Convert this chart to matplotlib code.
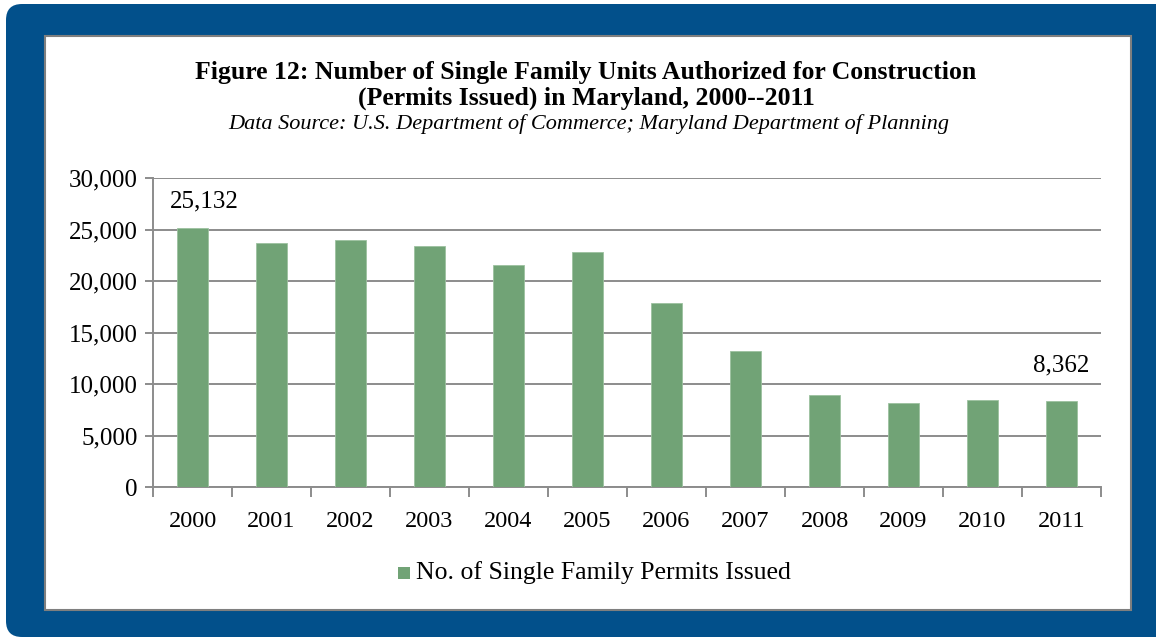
import matplotlib
matplotlib.use("Agg")
import matplotlib.pyplot as plt
from matplotlib.patches import FancyBboxPatch, Rectangle
from matplotlib.ticker import FuncFormatter

years = ["2000", "2001", "2002", "2003", "2004", "2005",
         "2006", "2007", "2008", "2009", "2010", "2011"]
permits = [25132, 23690, 23980, 23370, 21530, 22850,
           17840, 13240, 8940, 8170, 8490, 8362]
labelled = {0: "25,132", 11: "8,362"}

BLUE = "#02508b"
GREEN = "#71a376"
GRID = "#8c8c8c"

plt.rcParams["font.family"] = ["Liberation Serif", "DejaVu Serif"]

fig = plt.figure(figsize=(11.56, 6.38), dpi=100)
W, H = 1156.0, 638.0

# outer blue frame in pixel units: rounded on the left, square where it
# runs off the right edge
fig.patches.append(FancyBboxPatch((6, 1), 700, 633,
                                  boxstyle="round,pad=0,rounding_size=16",
                                  transform=None, facecolor=BLUE,
                                  edgecolor="none", zorder=0))
fig.patches.append(Rectangle((600, 1), 600, 633, transform=None,
                             facecolor=BLUE, edgecolor="none", zorder=0))
panel = Rectangle((45 / W, 1 - 610 / H), 1086 / W, 574 / H,
                  transform=fig.transFigure, facecolor="white",
                  edgecolor="#7f7f7f", linewidth=1.5, zorder=1)
fig.patches.append(panel)

ax = fig.add_axes([153 / W, 1 - 487 / H, 948 / W, 309 / H])
ax.set_facecolor("none")
ax.set_zorder(2)

x = list(range(len(years)))
ax.bar(x, permits, width=0.405, color=GREEN, edgecolor="#9cc19f",
       linewidth=0.6, zorder=3)

ax.set_xlim(-0.5, len(years) - 0.5)
ax.set_ylim(0, 30000)
ax.set_yticks(range(0, 30001, 5000))
ax.yaxis.set_major_formatter(FuncFormatter(lambda v, p: f"{int(v):,}"))
ax.grid(axis="y", color=GRID, linewidth=1.4, zorder=1)

ax.set_xticks(x)
ax.set_xticklabels(years)
ax.set_xticks([i - 0.5 for i in range(len(years) + 1)], minor=True)
ax.tick_params(axis="x", which="major", length=0, pad=17, labelsize=17.5)
ax.tick_params(axis="x", which="minor", length=7, color=GRID, width=1.4)
ax.tick_params(axis="y", length=6, color=GRID, width=1.4, pad=5,
               labelsize=18)

for side in ["top", "right"]:
    ax.spines[side].set_visible(False)
for side in ["left", "bottom"]:
    ax.spines[side].set_color(GRID)
    ax.spines[side].set_linewidth(1.4)

# value labels on first and last bar
ax.annotate(labelled[0], (0, permits[0]), xytext=(12, 27),
            textcoords="offset pixels", ha="center", va="center",
            fontsize=18, zorder=4)
ax.annotate(labelled[11], (11, permits[11]), xytext=(0, 35),
            textcoords="offset pixels", ha="center", va="center",
            fontsize=18, zorder=4)

fig.text(586 / W, 1 - 72 / H,
         "Figure 12: Number of Single Family Units Authorized for Construction",
         ha="center", va="center", fontsize=18.5, fontweight="bold", zorder=5)
fig.text(586 / W, 1 - 98 / H,
         "(Permits Issued) in Maryland, 2000--2011",
         ha="center", va="center", fontsize=18.5, fontweight="bold", zorder=5)
fig.text(589 / W, 1 - 124 / H,
         "Data Source: U.S. Department of Commerce; Maryland Department of Planning",
         ha="center", va="center", fontsize=16, style="italic", zorder=5)

# legend
fig.patches.append(Rectangle((398 / W, 1 - 579 / H), 12 / W, 12 / H,
                             transform=fig.transFigure, facecolor=GREEN,
                             edgecolor="none", zorder=5))
fig.text(416 / W, 1 - 573 / H, "No. of Single Family Permits Issued",
         ha="left", va="center", fontsize=18.5, zorder=5)

fig.savefig("out.png", dpi=100)
